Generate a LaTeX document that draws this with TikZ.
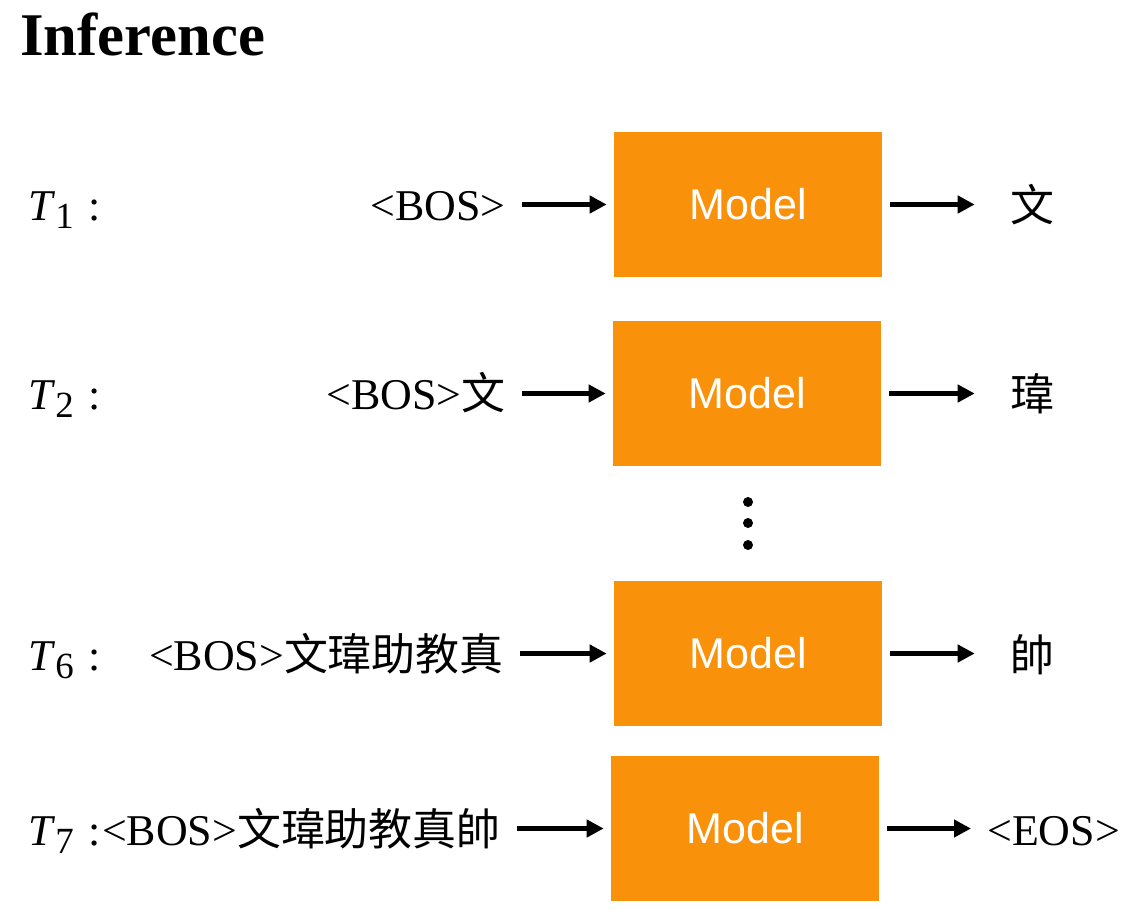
\documentclass[tikz,border=0pt]{standalone}
\usepackage{fontspec}
\setmainfont{Liberation Serif}
\setsansfont{Liberation Sans}
\newfontfamily\cjk{Noto Sans CJK TC}
\usetikzlibrary{positioning,arrows.meta}
\definecolor{modelorange}{RGB}{250,145,10}
\newcommand{\tlabel}[1]{\textit{T}\raisebox{-0.4ex}{\fontsize{21}{21}\selectfont #1}\,\,:}

\begin{document}
\begin{tikzpicture}[%
		x=0.02cm,
		y=-0.02cm,
		>={Triangle[length=0.34cm,width=0.34cm]},
		model/.style={%
			fill=modelorange,
			minimum width=5.36cm,
			minimum height=2.9cm,
			text=white,
			font=\sffamily\fontsize{24.5}{28}\selectfont
		},
		token/.style={%
			inner sep=0pt,
			font=\fontsize{25}{30}\selectfont
		},
		infeed/.style={->, line width=2.5pt, shorten <=0.32cm, shorten >=0.14cm},
		outfeed/.style={->, line width=2.5pt, shorten <=0.16cm, shorten >=0.7cm}
		]
		\useasboundingbox (0,0) rectangle (1148,910);
		\node[anchor=base west, inner sep=0pt, font=\bfseries\fontsize{34.5}{40}\selectfont] (title) at (20,55) {Inference};
		
		\node[model] (m1) at (748,204.5) {Model};
		\node[model] (m2) at (747,393.5) {Model};
		\node[model] (m6) at (748,653.5) {Model};
		\node[model] (m7) at (745,828.5) {Model};
		
		\node[token, anchor=base west] (t1) at (28,220) {\tlabel{1}};
		\node[token, anchor=base west] (t2) at (28,409) {\tlabel{2}};
		\node[token, anchor=base west] (t6) at (28,670) {\tlabel{6}};
		\node[token, anchor=base west] (t7) at (28,845) {\tlabel{7}};
		
		\node[token, anchor=base east] (i1) at (506,220) {<BOS>};
		\node[token, anchor=base east] (i2) at (506,409) {<BOS>{\cjk 文}};
		\node[token, anchor=base east] (i6) at (504,670) {<BOS>{\cjk 文瑋助教真}};
		\node[token, anchor=base east] (i7) at (501,845) {<BOS>{\cjk 文瑋助教真帥}};
		
		\node[token] (o1) at (1032,205) {\cjk 文};
		\node[token] (o2) at (1032,394) {\cjk 瑋};
		\node[token] (o6) at (1032,655) {\cjk 帥};
		\node[token, anchor=base west] (o7) at (987,845) {<EOS>};
		
		% dots between T2 and T6
		\foreach \y in {502,523,545}
			\fill (748,\y) circle (0.1cm);
		
		\draw[infeed] (i1.east |- m1.west) -- (m1.west);
		\draw[infeed] (i2.east |- m2.west) -- (m2.west);
		\draw[infeed] (i6.east |- m6.west) -- (m6.west);
		\draw[infeed] (i7.east |- m7.west) -- (m7.west);
		
		\draw[outfeed] (m1.east) -- (o1.west |- m1.east);
		\draw[outfeed] (m2.east) -- (o2.west |- m2.east);
		\draw[outfeed] (m6.east) -- (o6.west |- m6.east);
		\draw[outfeed, shorten >=0.32cm] (m7.east) -- (o7.west |- m7.east);
		\end{tikzpicture}
\end{document}
